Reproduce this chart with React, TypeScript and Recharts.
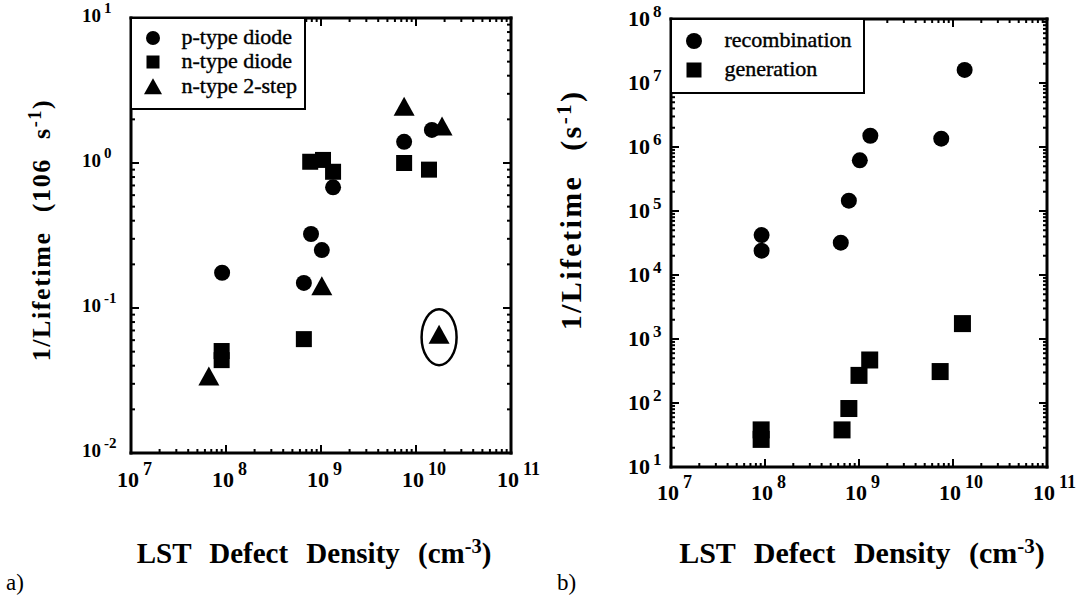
import React from 'react'
import { ScatterChart, Scatter, XAxis, YAxis, ReferenceDot, Legend } from 'recharts'

// a) 1/Lifetime (10^6 s^-1) vs LST defect density (cm^-3)
const pTypeDiode = [
  { x: 9.1e7, y: 0.175 },
  { x: 7.85e8, y: 0.324 },
  { x: 1.02e9, y: 0.251 },
  { x: 6.6e8, y: 0.149 },
  { x: 1.34e9, y: 0.68 },
  { x: 7.5e9, y: 1.4 },
  { x: 1.47e10, y: 1.69 },
]
const nTypeDiode = [
  { x: 9.0e7, y: 0.0505 },
  { x: 9.0e7, y: 0.0437 },
  { x: 6.6e8, y: 0.061 },
  { x: 7.7e8, y: 1.02 },
  { x: 1.05e9, y: 1.05 },
  { x: 1.34e9, y: 0.87 },
  { x: 7.5e9, y: 1.0 },
  { x: 1.37e10, y: 0.9 },
]
const nType2Step = [
  { x: 6.6e7, y: 0.0334 },
  { x: 1.02e9, y: 0.14 },
  { x: 7.5e9, y: 2.43 },
  { x: 1.88e10, y: 1.77 },
  { x: 1.75e10, y: 0.065 },
]
// the point that is circled in a)
const circledPoint = { x: 1.75e10, y: 0.065 }

// b) 1/Lifetime (s^-1) vs LST defect density (cm^-3)
const recombination = [
  { x: 9.2e7, y: 4.2e4 },
  { x: 9.2e7, y: 2.4e4 },
  { x: 6.4e8, y: 3.2e4 },
  { x: 7.8e8, y: 1.45e5 },
  { x: 1.02e9, y: 6.2e5 },
  { x: 1.32e9, y: 1.5e6 },
  { x: 7.5e9, y: 1.35e6 },
  { x: 1.33e10, y: 1.6e7 },
]
const generation = [
  { x: 9.1e7, y: 38 },
  { x: 9.1e7, y: 27 },
  { x: 6.6e8, y: 38 },
  { x: 7.8e8, y: 82 },
  { x: 1.0e9, y: 270 },
  { x: 1.3e9, y: 470 },
  { x: 7.3e9, y: 310 },
  { x: 1.26e10, y: 1740 },
]

const xDecades = [7, 8, 9, 10, 11]
const yDecadesA = [-2, -1, 0, 1]
const yDecadesB = [1, 2, 3, 4, 5, 6, 7, 8]

const SERIF = '"Liberation Serif", "Times New Roman", serif'

// major + minor ticks (1..9 x 10^n) for a log axis
const logTicks = (decades: number[]) => {
  const out: number[] = []
  decades.forEach((e, i) => {
    if (i === decades.length - 1) {
      out.push(Math.pow(10, e))
      return
    }
    for (let m = 1; m < 10; m++) out.push(m * Math.pow(10, e))
  })
  return out
}

const isMajor = (v: number) => {
  const l = Math.log10(v)
  return Math.abs(l - Math.round(l)) < 1e-6
}

const frame = { stroke: '#000', strokeWidth: 3, strokeLinecap: 'square' as const }

// ticks point into the plot, labels sit outside
const makeTick = (side: string, opts: any = {}) => (props: any) => {
  const { x, y, payload } = props
  const v = payload.value
  const major = isMajor(v)
  const len = major ? 8 : 4
  const exp = Math.round(Math.log10(v))
  let line = null
  if (side === 'bottom') line = <line x1={x} x2={x} y1={y} y2={y - len} stroke="#000" strokeWidth={2} />
  if (side === 'top') line = <line x1={x} x2={x} y1={y} y2={y + len} stroke="#000" strokeWidth={2} />
  if (side === 'left') line = <line x1={x} x2={x + len} y1={y} y2={y} stroke="#000" strokeWidth={2} />
  if (side === 'right') line = <line x1={x} x2={x - len} y1={y} y2={y} stroke="#000" strokeWidth={2} />
  let label = null
  if (major && opts.label && side === 'bottom') {
    label = (
      <text x={x - 14} y={y + opts.gap} fontFamily={SERIF} fontWeight="bold" fontSize={opts.size} fill="#000">
        10
        <tspan dx={4} dy={-12} fontSize={opts.expSize}>{exp}</tspan>
      </text>
    )
  }
  if (major && opts.label && side === 'left') {
    label = (
      <text x={x - opts.gap} y={y + opts.base} fontFamily={SERIF} fontWeight="bold" fontSize={opts.size} fill="#000">
        10
        <tspan dx={3} dy={-9} fontSize={opts.expSize}>{exp}</tspan>
      </text>
    )
  }
  return (
    <g>
      {line}
      {label}
    </g>
  )
}

const circle = (r: number) => (p: any) => <circle cx={p.cx} cy={p.cy} r={r} fill="#000" />
const square = (h: number) => (p: any) => <rect x={p.cx - h} y={p.cy - h} width={2 * h} height={2 * h} fill="#000" />
const triangle = (w: number, h: number) => (p: any) => (
  <polygon points={`${p.cx},${p.cy - h * 0.55} ${p.cx - w},${p.cy + h * 0.45} ${p.cx + w},${p.cy + h * 0.45}`} fill="#000" />
)
const ellipseShape = (p: any) => (
  <ellipse cx={p.cx} cy={p.cy + 2} rx={17.5} ry={28} fill="none" stroke="#000" strokeWidth={2.5} />
)

const seriesA = [
  { name: 'p-type diode', data: pTypeDiode, shape: circle(8), key: circle(7) },
  { name: 'n-type diode', data: nTypeDiode, shape: square(8), key: square(6.5) },
  { name: 'n-type 2-step', data: nType2Step, shape: triangle(10.5, 19), key: triangle(9, 16) },
]
const seriesB = [
  { name: 'recombination', data: recombination, shape: circle(8), key: circle(8) },
  { name: 'generation', data: generation, shape: square(8.5), key: square(7.5) },
]

const LegendBox = ({ items, rowTop, rowGap, markerX, textX }: any) => (
  <div
    style={{
      position: 'relative',
      width: '100%',
      height: '100%',
      boxSizing: 'border-box',
      border: '2.5px solid #000',
      background: '#fff',
      fontFamily: SERIF,
      fontSize: 22,
      color: '#000',
    }}
  >
    {items.map((it: any, i: number) => (
      <div key={it.name}>
        <svg
          width={24}
          height={24}
          style={{ position: 'absolute', left: markerX - 12 - 2.5, top: rowTop + i * rowGap - 12 - 2.5 }}
        >
          {it.key({ cx: 12, cy: 12 })}
        </svg>
        <span
          style={{
            position: 'absolute',
            left: textX - 2.5,
            top: rowTop + i * rowGap - 14 - 2.5,
            lineHeight: '26px',
            whiteSpace: 'nowrap',
            WebkitTextStroke: '0.4px #000',
          }}
        >
          {it.name}
        </span>
      </div>
    ))}
  </div>
)

const titleStyle: React.CSSProperties = {
  position: 'absolute',
  whiteSpace: 'nowrap',
  fontFamily: SERIF,
  fontWeight: 'bold',
  color: '#000',
  lineHeight: 1,
}
const sup: React.CSSProperties = { fontSize: '0.7em', position: 'relative', top: '-0.5em' }

export default function App() {
  const xTicks = logTicks(xDecades)
  const yTicksA = logTicks(yDecadesA)
  const yTicksB = logTicks(yDecadesB)

  const common = {
    type: 'number' as const,
    scale: 'log' as const,
    allowDataOverflow: true,
    interval: 0 as const,
    tickSize: 0,
    tickMargin: 0,
    tickLine: false,
    axisLine: frame,
  }

  return (
    <div style={{ position: 'absolute', left: 0, top: 0, width: 1088, height: 601, background: '#fff', overflow: 'hidden' }}>
      <div style={{ position: 'absolute', left: 0, top: 0 }}>
        <ScatterChart width={540} height={601} margin={{ top: 17, right: 28, bottom: 147, left: 130 }}>
          <XAxis dataKey="x" domain={[1e7, 1e11]} ticks={xTicks} height={1} {...common}
            tick={makeTick('bottom', { label: true, gap: 34, size: 22, expSize: 18 })} />
          <XAxis xAxisId="top" orientation="top" dataKey="x" domain={[1e7, 1e11]} ticks={xTicks} height={1} {...common}
            tick={makeTick('top')} />
          <YAxis dataKey="y" domain={[1e-2, 1e1]} ticks={yTicksA} width={1} {...common}
            tick={makeTick('left', { label: true, gap: 49, base: 4, size: 19, expSize: 15 })} />
          <YAxis yAxisId="right" orientation="right" dataKey="y" domain={[1e-2, 1e1]} ticks={yTicksA} width={1} {...common}
            tick={makeTick('right')} />
          {seriesA.map((s) => (
            <Scatter key={s.name} name={s.name} data={s.data} shape={s.shape} isAnimationActive={false} />
          ))}
          <ReferenceDot x={circledPoint.x} y={circledPoint.y} shape={ellipseShape} ifOverflow="visible" />
          <Legend
            layout="vertical"
            align="center"
            verticalAlign="middle"
            wrapperStyle={{ left: 130, top: 17, width: 176, height: 93 }}
            content={() => <LegendBox items={seriesA} rowTop={21} rowGap={24.5} markerX={23} textX={52} />}
          />
        </ScatterChart>
      </div>

      <div style={{ position: 'absolute', left: 540, top: 0 }}>
        <ScatterChart width={548} height={601} margin={{ top: 18, right: 40, bottom: 133, left: 130 }}>
          <XAxis dataKey="x" domain={[1e7, 1e11]} ticks={xTicks} height={1} {...common}
            tick={makeTick('bottom', { label: true, gap: 33, size: 22, expSize: 18 })} />
          <XAxis xAxisId="top" orientation="top" dataKey="x" domain={[1e7, 1e11]} ticks={xTicks} height={1} {...common}
            tick={makeTick('top')} />
          <YAxis dataKey="y" domain={[1e1, 1e8]} ticks={yTicksB} width={1} {...common}
            tick={makeTick('left', { label: true, gap: 43, base: 7, size: 22, expSize: 17 })} />
          <YAxis yAxisId="right" orientation="right" dataKey="y" domain={[1e1, 1e8]} ticks={yTicksB} width={1} {...common}
            tick={makeTick('right')} />
          {seriesB.map((s) => (
            <Scatter key={s.name} name={s.name} data={s.data} shape={s.shape} isAnimationActive={false} />
          ))}
          <Legend
            layout="vertical"
            align="center"
            verticalAlign="middle"
            wrapperStyle={{ left: 130, top: 18, width: 195, height: 76 }}
            content={() => <LegendBox items={seriesB} rowTop={23} rowGap={29} markerX={24} textX={55} />}
          />
        </ScatterChart>
      </div>

      {/* axis titles */}
      <div style={{ ...titleStyle, fontSize: 26, letterSpacing: 1.6, wordSpacing: 11, left: 42, top: 230, transform: 'translate(-50%, -50%) rotate(-90deg)' }}>
        1/Lifetime (106 s<span style={sup}>-1</span>)
      </div>
      <div style={{ ...titleStyle, fontSize: 30, letterSpacing: 2.4, wordSpacing: 14, left: 571, top: 210, transform: 'translate(-50%, -50%) rotate(-90deg)' }}>
        1/Lifetime (s<span style={sup}>-1</span>)
      </div>
      <div style={{ ...titleStyle, fontSize: 29, wordSpacing: 11, left: 314, top: 539, transform: 'translateX(-50%)' }}>
        LST Defect Density (cm<span style={sup}>-3</span>)
      </div>
      <div style={{ ...titleStyle, fontSize: 30, wordSpacing: 11, left: 862, top: 538, transform: 'translateX(-50%)' }}>
        LST Defect Density (cm<span style={sup}>-3</span>)
      </div>
      <div style={{ position: 'absolute', left: 6, top: 571, fontFamily: SERIF, fontSize: 23, lineHeight: 1 }}>a)</div>
      <div style={{ position: 'absolute', left: 557, top: 571, fontFamily: SERIF, fontSize: 23, lineHeight: 1 }}>b)</div>
    </div>
  )
}
